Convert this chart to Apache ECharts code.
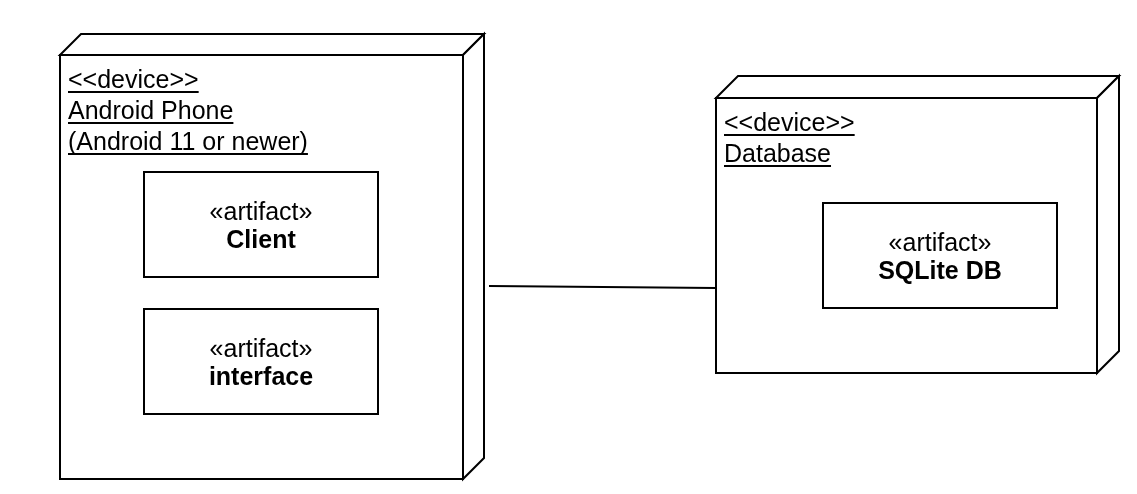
<!DOCTYPE html>
<html>
<head>
<meta charset="utf-8">
<script src="https://cdn.jsdelivr.net/npm/echarts@6/dist/echarts.min.js"></script>
<style>
  html, body { margin: 0; padding: 0; background: #fff; }
  #diagram { width: 1137px; height: 494px; }
</style>
</head>
<body>
<div id="diagram"></div>
<script>
// Nodes: left, top, width, height, depth (in diagram units)
const nodeBoxes = [[60, 55, 403, 424, 21], [716, 98, 381, 275, 22]];
const nodeLabels = [
    ['<<device>>', 'Android Phone', '(Android 11 or newer)'],
    ['<<device>>', 'Database']
];
// Artifacts: left, top, width, height
const artifactBoxes = [[144, 172, 234, 105], [144, 309, 234, 105], [823, 203, 234, 105]];
const artifactStereotypes = ['«artifact»', '«artifact»', '«artifact»'];
const artifactNames = ['Client', 'interface', 'SQLite DB'];
// Communication path between the two nodes
const linkPoints = [[489, 286], [716, 288]];

const FONT = '"Liberation Sans", Arial, sans-serif';
const FONT_SIZE = 25;

// ancho del texto para dibujar el subrayado
const measureCtx = document.createElement('canvas').getContext('2d');
function textWidth(str, weight) {
    measureCtx.font = (weight || 'normal') + ' ' + FONT_SIZE + 'px ' + FONT;
    return measureCtx.measureText(str).width;
}

document.addEventListener('DOMContentLoaded', function() {
    const container = document.getElementById('diagram');
    const chart = echarts.init(container);

    function renderNode(params, api) {
        const x = api.value(0), y = api.value(1), w = api.value(2), h = api.value(3), d = api.value(4);
        const p = (px, py) => api.coord([px, py]);
        const line = { stroke: '#000', lineWidth: 2, fill: '#fff', lineJoin: 'miter' };
        const children = [
            { type: 'polygon', shape: { points: [p(x, y), p(x + d, y - d), p(x + w + d, y - d), p(x + w, y)] }, style: line },
            { type: 'polygon', shape: { points: [p(x + w, y), p(x + w + d, y - d), p(x + w + d, y + h - d), p(x + w, y + h)] }, style: line },
            { type: 'polygon', shape: { points: [p(x, y), p(x + w, y), p(x + w, y + h), p(x, y + h)] }, style: line }
        ];
        nodeLabels[params.dataIndex].forEach(function(txt, i) {
            const base = p(x + 8, y + 33 + i * 31);
            children.push({
                type: 'text',
                x: base[0], y: base[1] - 7,
                style: { text: txt, fontSize: FONT_SIZE, fontFamily: FONT, fill: '#000', align: 'left', verticalAlign: 'middle' }
            });
            children.push({
                type: 'rect',
                shape: { x: base[0], y: base[1] + 3, width: textWidth(txt), height: 2 },
                style: { fill: '#000' }
            });
        });
        return { type: 'group', children: children };
    }

    function renderArtifact(params, api) {
        const x = api.value(0), y = api.value(1), w = api.value(2), h = api.value(3);
        const tl = api.coord([x, y]);
        const br = api.coord([x + w, y + h]);
        const cx = (tl[0] + br[0]) / 2;
        return {
            type: 'group',
            children: [
                { type: 'rect', shape: { x: tl[0], y: tl[1], width: br[0] - tl[0], height: br[1] - tl[1] }, style: { stroke: '#000', lineWidth: 2, fill: '#fff' } },
                { type: 'text', x: cx, y: tl[1] + 41, style: { text: artifactStereotypes[params.dataIndex], fontSize: FONT_SIZE, fontFamily: FONT, fill: '#000', align: 'center', verticalAlign: 'middle' } },
                { type: 'text', x: cx, y: tl[1] + 69, style: { text: artifactNames[params.dataIndex], fontSize: FONT_SIZE, fontFamily: FONT, fontWeight: 'bold', fill: '#000', align: 'center', verticalAlign: 'middle' } }
            ]
        };
    }

    const option = {
        animation: false,
        backgroundColor: '#fff',
        grid: { left: 0, right: 0, top: 0, bottom: 0 },
        xAxis: { type: 'value', min: 0, max: 1137, show: false },
        yAxis: { type: 'value', min: 0, max: 494, inverse: true, show: false },
        series: [
            { type: 'custom', name: 'nodes', renderItem: renderNode, data: nodeBoxes, z: 1 },
            { type: 'custom', name: 'artifacts', renderItem: renderArtifact, data: artifactBoxes, z: 2 },
            {
                type: 'line', name: 'link', data: linkPoints, symbol: 'none', z: 3,
                lineStyle: { color: '#000', width: 2 }
            }
        ]
    };

    chart.setOption(option);

    window.addEventListener('resize', function() {
        chart.resize();
    });
});
</script>
</body>
</html>
